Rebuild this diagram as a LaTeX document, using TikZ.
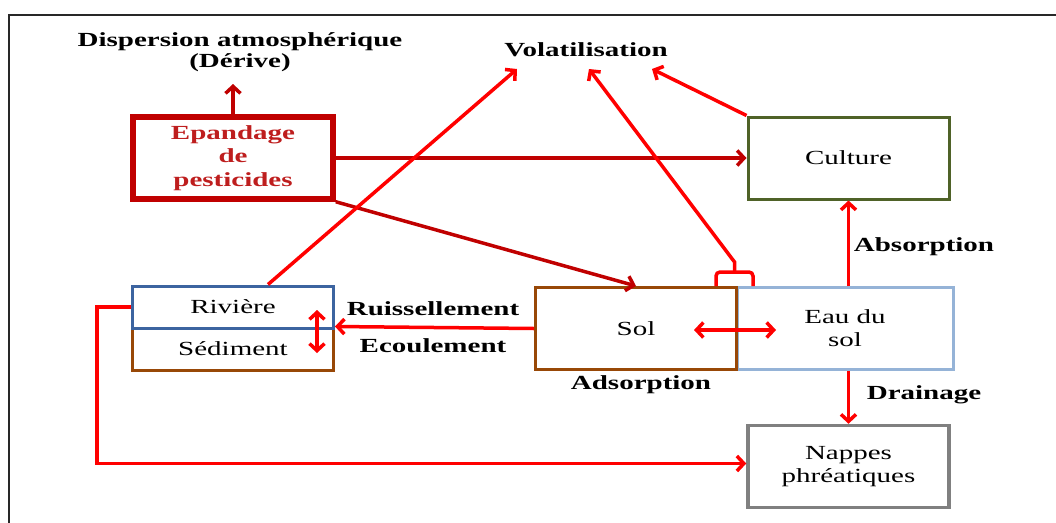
\documentclass[tikz,border=0pt]{standalone}
\usepackage{fontspec}
\setmainfont{Liberation Serif}[FakeStretch=1.45]
\usetikzlibrary{arrows.meta}

\definecolor{darkred}{RGB}{192,0,0}
\definecolor{epatext}{RGB}{190,30,30}
\definecolor{olivegreen}{RGB}{79,98,40}
\definecolor{soilbrown}{RGB}{152,72,7}
\definecolor{riverblue}{RGB}{60,100,160}
\definecolor{waterblue}{RGB}{149,179,215}
\definecolor{framegray}{RGB}{40,40,40}
\definecolor{napgray}{RGB}{128,128,128}

\begin{document}
\begin{tikzpicture}[x=1pt,y=-1pt,
  lbl/.style={font=\bfseries\fontsize{20}{21}\selectfont, inner sep=0pt, align=center},
  box/.style={draw, line width=3pt, minimum width=201pt, minimum height=82pt,
              inner sep=0pt, align=center, font=\fontsize{20}{23}\selectfont},
  halfbox/.style={box, minimum height=42pt},
  redarrow/.style={draw=red, line width=3.5pt, -{Straight Barb[length=7pt,width=15pt]}},
  redboth/.style={draw=red, line width=3.5pt, {Straight Barb[length=7pt,width=15pt]}-{Straight Barb[length=7pt,width=15pt]}},
  darkarrow/.style={draw=darkred, line width=3.5pt, -{Straight Barb[length=7pt,width=15pt]}}
]
\useasboundingbox (0,0) rectangle (1056,522);

% outer frame
\draw[framegray, line width=1.8pt] (9,530) -- (9,15) -- (1070,15);

% boxes
\node[box, draw=darkred, line width=5.5pt, minimum width=200pt,
      font=\bfseries\fontsize{20}{23.5}\selectfont, text=epatext]
      (epa) at (233,158) {Epandage\\de\\pesticides};
\node[box, draw=olivegreen] (cult) at (848.5,158) {Culture};
\node[box, draw=waterblue, minimum width=216pt] (eau) at (845,328.5) {Eau du\\sol};
\node[box, draw=soilbrown] (sol) at (636,328.5) {Sol};
\node[halfbox, draw=soilbrown] (sed) at (233,349) {Sédiment};
\node[halfbox, draw=riverblue] (riv) at (233,307) {Rivière};
\node[box, draw=napgray, line width=3.5pt] (nap) at (848.5,466.5) {Nappes\\phréatiques};

% labels
\node[lbl] (disp) at (240,52) {Dispersion atmosphérique\\(Dérive)};
\node[lbl] (vol) at (586,50) {Volatilisation};
\node[lbl] (ruis) at (433,309) {Ruissellement};
\node[lbl] (ecou) at (433,346) {Ecoulement};
\node[lbl] (adso) at (641,385) {Adsorption};
\node[lbl] (abso) at (924,247) {Absorption};
\node[lbl] (drai) at (924,395) {Drainage};

% arrow end points
\coordinate (disptip) at (233,84);
\coordinate (voltipA) at (517,69);
\coordinate (voltipB) at (589,69);
\coordinate (voltipC) at (652,69);
\coordinate (exchL) at (694,330);
\coordinate (exchR) at (776,330);
\coordinate (rsTop) at (317,310);
\coordinate (rsBot) at (317,353);

% spraying
\draw[darkarrow] (epa.north) -- (disptip);
\draw[darkarrow] (epa.east) -- (cult.west);
\draw[darkarrow] (epa.south east) -- (sol.north);

% volatilisation
\draw[redarrow] ([xshift=35pt]riv.north) -- (voltipA);
\draw[redarrow] (cult.north west) -- (voltipC);
\draw[draw=red, line width=3.5pt, rounded corners=4pt]
  ([xshift=-22pt]sol.north east) -- ([xshift=-22pt,yshift=14pt]sol.north east)
  -- ([xshift=15pt,yshift=14pt]sol.north east) -- ([xshift=15pt]sol.north east);
\draw[redarrow] ([xshift=-3.5pt,yshift=14pt]sol.north east)
  -- ([xshift=-3.5pt,yshift=24pt]sol.north east) -- (voltipB);

% soil exchanges
\draw[redboth] (exchL) -- (exchR);
\draw[redarrow] (sol.west) -- (sed.north east);
\draw[redboth] (rsTop) -- (rsBot);

% water transfers
\draw[redarrow] (cult.south |- eau.north) -- (cult.south);
\draw[redarrow] (nap.north |- eau.south) -- (nap.north);
\draw[redarrow] (riv.west) -- ++(-34,0) |- ([yshift=3pt]nap.west);
\end{tikzpicture}
\end{document}
